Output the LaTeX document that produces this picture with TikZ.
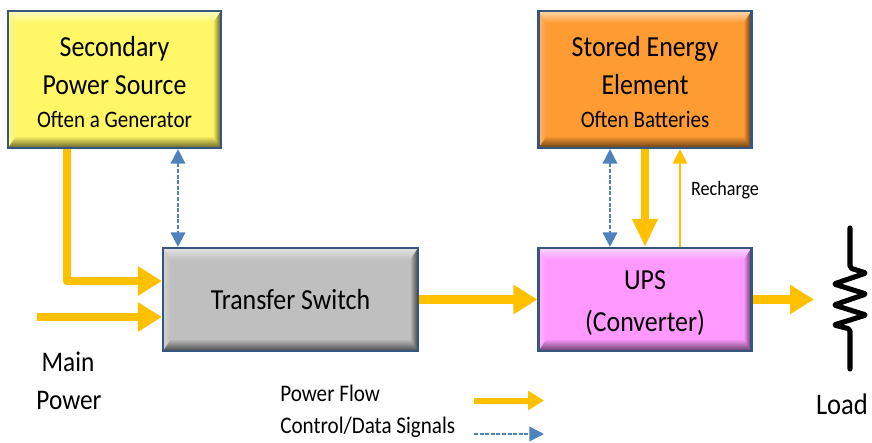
\documentclass[tikz,border=0pt]{standalone}
\usepackage{fontspec}
\setmainfont[FakeStretch=.89]{Carlito}
\usetikzlibrary{arrows.meta,calc,fadings}

\definecolor{boxedge}{HTML}{34567F}
\definecolor{powerline}{HTML}{FFC000}
\definecolor{signalline}{HTML}{4F81BD}

\newcommand{\bevelsides}{
  \coordinate (nw) at (path picture bounding box.north west);
  \coordinate (ne) at (path picture bounding box.north east);
  \coordinate (sw) at (path picture bounding box.south west);
  \coordinate (se) at (path picture bounding box.south east);
  \fill[white,opacity=.6,path fading=south] (nw) -- (ne) -- ($(ne)+(-8,12)$) -- ($(nw)+(8,12)$) -- cycle; %top
  \fill[black,opacity=.6,path fading=north] (sw) -- (se) -- ($(se)+(-8,-12)$) -- ($(sw)+(8,-12)$) -- cycle; %bottom
  \fill[black,opacity=.65,path fading=west] (ne) -- (se) -- ($(se)+(-8,-12)$) -- ($(ne)+(-8,12)$) -- cycle; %right
  \fill[white,opacity=.3,path fading=east] (nw) -- (sw) -- ($(sw)+(8,-12)$) -- ($(nw)+(8,12)$) -- cycle; %left
}

\tikzset{
  bevelbox/.style={draw=boxedge,line width=1.6pt,align=center,inner sep=0pt,
    font=\fontsize{21.8}{28.5}\selectfont,path picture={\bevelsides}},
  power/.style={draw=powerline,line width=6.4pt,line join=round,
    -{Triangle[width=21pt,length=18pt,fill=powerline]}},
  recharge/.style={draw=powerline,line width=1.3pt,
    -{Triangle[width=11pt,length=11pt,fill=powerline]}},
  signal/.style={draw=signalline,line width=1.2pt,dash pattern=on 3pt off 1.2pt,
    {Triangle[width=11pt,length=11pt,fill=signalline]}-{Triangle[width=11pt,length=11pt,fill=signalline]}},
  bigtext/.style={font=\fontsize{21.3}{24}\selectfont,inner sep=0pt},
  smalltext/.style={font=\fontsize{17.8}{20}\selectfont,inner sep=0pt}
}
\newcommand{\subtext}{\fontsize{17.7}{26}\selectfont}

\begin{document}
\begin{tikzpicture}[x=.75pt,y=-.75pt]
  \useasboundingbox (0,0) rectangle (872,443);

  %Boxes
  \node[bevelbox,fill=yellow!60!white,minimum width=159.75pt,minimum height=102.75pt] (source) at (114.5,79.5)
    {\rule{0pt}{18.5pt}Secondary\\Power Source\\[-3.5pt]{\subtext Often a Generator}};
  \node[bevelbox,fill={rgb,255:red,255;green,155;blue,51},minimum width=159.75pt,minimum height=102.75pt] (battery) at (645,79.5)
    {\rule{0pt}{18.5pt}Stored Energy\\Element\\[-3.5pt]{\subtext Often Batteries}};
  \node[bevelbox,fill=black!25,minimum width=191.25pt,minimum height=77.25pt] (switch) at (290.5,299.5) {Transfer Switch};
  \node[bevelbox,fill={rgb,255:red,255;green,153;blue,255},minimum width=159.75pt,minimum height=77.25pt] (ups) at (645,299.5)
    {\rule{0pt}{19.5pt}UPS\\[3pt](Converter)};

  %Free ends
  \coordinate (mainin) at (37,317);
  \coordinate (elbow) at (67,281);
  \coordinate (loadin) at (814,299.5);
  \coordinate (sigx) at (178,200);
  \coordinate (upssig) at (610,200);
  \coordinate (downx) at (645,200);
  \coordinate (upx) at (680,200);

  %Power flow
  \draw[power] (source.south -| elbow) -- (elbow) -- (elbow -| switch.west);
  \draw[power] (mainin) -- (mainin -| switch.west);
  \draw[power] (switch.east) -- (ups.west);
  \draw[power] (ups.east) -- (loadin);
  \draw[power,-{Triangle[width=18pt,length=21pt,fill=powerline]}] (battery.south -| downx) -- (ups.north -| downx);
  \draw[recharge] (ups.north -| upx) -- (battery.south -| upx);

  %Control signals
  \draw[signal] (source.south -| sigx) -- (switch.north -| sigx);
  \draw[signal] (battery.south -| upssig) -- (ups.north -| upssig);

  %Load
  \draw[line width=3.8pt,line cap=round,line join=round,rounded corners=1.5pt]
    (850,228) -- (850,268) -- (866,273) -- (834,284) -- (866,294) -- (834,305) -- (866,315) -- (834,325) -- (850,329) -- (850,369);

  %Labels
  \node[font=\fontsize{15.3}{18}\selectfont,inner sep=0pt] (rechargelabel) at (725,190) {Recharge};
  \node[bigtext] (mainlabel) at (68,362) {Main};
  \node[bigtext] (powerlabel) at (69,400) {Power};
  \node[bigtext,font=\fontsize{22.4}{26}\selectfont] (loadlabel) at (842,404) {Load};

  %Legend
  \node[smalltext,anchor=west] (flowlabel) at (280,393.5) {Power Flow};
  \node[smalltext,anchor=west] (datalabel) at (280,427.5) {Control/Data Signals};
  \coordinate (flowa) at (474,400.5);
  \coordinate (flowb) at (544,400.5);
  \coordinate (dataa) at (474,434);
  \coordinate (datab) at (544,434);
  \draw[draw=powerline,line width=4.5pt,-{Triangle[width=14pt,length=12pt,fill=powerline]}] (flowa) -- (flowb);
  \draw[signal,-{Triangle[width=11pt,length=11pt,fill=signalline]}] (dataa) -- (datab);
\end{tikzpicture}
\end{document}
